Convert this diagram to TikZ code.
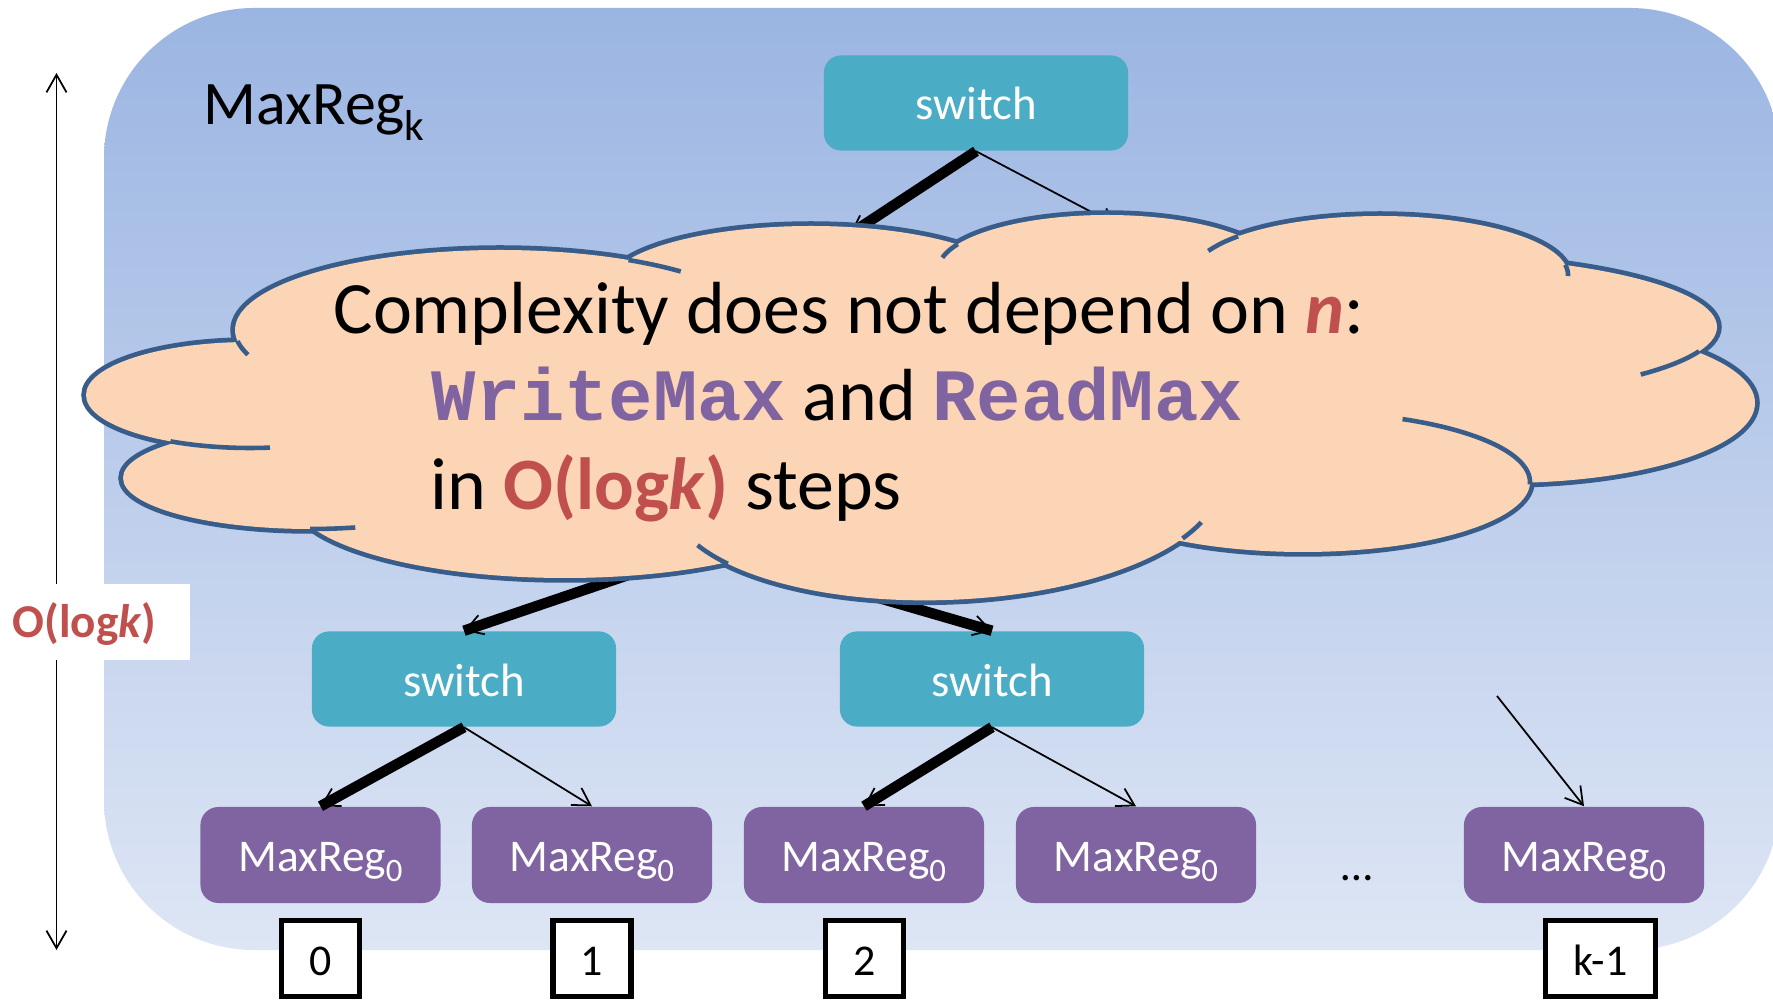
\documentclass[tikz,border=0pt]{standalone}
\usepackage{fontspec}
\setmainfont{Carlito}
\newfontfamily\courfont{Liberation Mono}
\usetikzlibrary{arrows.meta}
\definecolor{bgtop}{HTML}{9BB5E2}
\definecolor{bgbot}{HTML}{DEE6F5}
\definecolor{tealc}{HTML}{4BACC6}
\definecolor{purc}{HTML}{8064A2}
\definecolor{redc}{HTML}{C0504D}
\definecolor{cloudfill}{HTML}{FBD5B5}
\definecolor{cloudline}{HTML}{385D8A}
\tikzset{
  swbox/.style={fill=tealc, rounded corners=0.17cm, minimum width=3.04cm, minimum height=0.95cm,
    inner sep=0pt, text=white, font=\fontsize{13.3pt}{15pt}\selectfont, text height=0.40cm, text depth=0.06cm},
  mrbox/.style={fill=purc, rounded corners=0.18cm, minimum width=2.40cm, minimum height=0.96cm,
    inner sep=0pt, text=white, font=\fontsize{12.9pt}{15pt}\selectfont, text height=0.40cm, text depth=0.08cm},
  idxbox/.style={draw=black, line width=1.5pt, fill=white, minimum width=0.78cm, minimum height=0.76cm,
    inner sep=0pt, font=\fontsize{12.5pt}{15pt}\selectfont, text height=0.40cm, text depth=0.07cm},
  thk/.style={line width=3pt},
  arr/.style={line width=0.5pt, -{Straight Barb[length=4.8pt,width=5.7pt]}},
  cltwo/.style={draw=cloudline, line width=2.7pt},
  clfill/.style={fill=cloudfill},
  clbump/.style={draw=cloudline, line width=1.3pt},
  cloudtxt/.style={anchor=base west, inner sep=0pt, font=\fontsize{21pt}{25pt}\selectfont}
}
\newcommand{\mrzero}{MaxReg\raisebox{-3.1pt}{\fontsize{9.3pt}{10pt}\selectfont 0}}
\begin{document}
\begin{tikzpicture}[x=0.01cm,y=-0.01cm]
\useasboundingbox (0,0) rectangle (1773,1001);
\clip (0,0) rectangle (1773,1001);

% background
\shade[top color=bgtop, bottom color=bgbot, rounded corners=1.5cm] (104,8) rectangle (1780,950);

% title
\node[anchor=base west, inner sep=0pt, font=\fontsize{17.6pt}{20pt}\selectfont] (title) at (203,125)
  {MaxReg\raisebox{-4.3pt}{\fontsize{12.3pt}{14pt}\selectfont k}};

% switches
\node[swbox] (root) at (976,103) {switch};
\node[swbox] (lsw) at (464,679) {switch};
\node[swbox] (rsw) at (992,679) {switch};

% MaxReg0 boxes
\node[mrbox] (m1) at (320.5,855) {\mrzero};
\node[mrbox] (m2) at (592,855) {\mrzero};
\node[mrbox] (m3) at (864,855) {\mrzero};
\node[mrbox] (m4) at (1136,855) {\mrzero};
\node[mrbox] (m5) at (1584,855) {\mrzero};
\node[anchor=base, inner sep=0pt, font=\fontsize{12.8pt}{15pt}\selectfont] (dots) at (1357,880) {…};

% index boxes
\node[idxbox] (i0) at (320.5,958.5) {0};
\node[idxbox] (i1) at (592,958.5) {1};
\node[idxbox] (i2) at (864.5,958.5) {2};
\node[idxbox, minimum width=1.10cm] (ik) at (1600.5,958.5) {k-1};

% hidden / free ends
\coordinate (c1) at (850,234);
\coordinate (c2) at (1118,226);
\coordinate (h1) at (740,537);
\coordinate (h2) at (800,575);
\coordinate (f5) at (1497,696);

% arrows
\draw[thk] (root.south) -- (c1);
\draw[arr] (root.south) -- (c1);
\draw[arr] (root.south) -- (c2);
\draw[thk] (h1) -- (lsw.north);
\draw[arr] (h1) -- (lsw.north);
\draw[thk] (h2) -- (rsw.north);
\draw[arr] (h2) -- (rsw.north);
\draw[thk] (lsw.south) -- (m1.north);
\draw[arr] (lsw.south) -- (m1.north);
\draw[arr] (lsw.south) -- (m2.north);
\draw[thk] (rsw.south) -- (m3.north);
\draw[arr] (rsw.south) -- (m3.north);
\draw[arr] (rsw.south) -- (m4.north);
\draw[arr] (f5) -- (m5.north);

% cloud: outline pass
\foreach \cx/\cy/\ra/\rb in {250/395/164/53, 500/330/265/80, 811/286/203/60, 1107/270/169/55,
  1380/275/188/59, 1420/327/297/71, 1504/403/251/80, 1303/482/227/70, 565/498/272/80, 310/478/187/51}
  {\draw[cltwo] (\cx,\cy) ellipse [x radius=\ra, y radius=\rb];}
\draw[cltwo, rotate around={2:(945,490)}] (945,490) ellipse [x radius=275, y radius=110];
% cloud: fill pass
\foreach \cx/\cy/\ra/\rb in {250/395/164/53, 500/330/265/80, 811/286/203/60, 1107/270/169/55,
  1380/275/188/59, 1420/327/297/71, 1504/403/251/80, 1303/482/227/70, 565/498/272/80, 310/478/187/51}
  {\fill[clfill] (\cx,\cy) ellipse [x radius=\ra, y radius=\rb];}
\fill[clfill, rotate around={2:(945,490)}] (945,490) ellipse [x radius=275, y radius=110];
\fill[clfill] (250,395) -- (500,330) -- (811,286) -- (1107,270) -- (1380,275) -- (1420,327)
  -- (1504,403) -- (1303,482) -- (945,490) -- (565,498) -- (310,478) -- cycle;
% cloud: inner bumps
\draw[clbump] plot[domain=83:119, variable=\t, samples=20, smooth] ({250+164*cos(\t)},{395+53*sin(\t)});
\draw[clbump] plot[domain=162:172, variable=\t, samples=12, smooth] ({500+265*cos(\t)},{330+80*sin(\t)});
\draw[clbump] plot[domain=-61:-47, variable=\t, samples=12, smooth] ({500+265*cos(\t)},{330+80*sin(\t)});
\draw[clbump] plot[domain=-167:-152, variable=\t, samples=12, smooth] ({1107+169*cos(\t)},{270+55*sin(\t)});
\draw[clbump] plot[domain=-156:-139, variable=\t, samples=12, smooth] ({1380+188*cos(\t)},{275+59*sin(\t)});
\draw[clbump] plot[domain=-10:1, variable=\t, samples=12, smooth] ({1380+188*cos(\t)},{275+59*sin(\t)});
\draw[clbump] plot[domain=20:42, variable=\t, samples=14, smooth] ({1420+297*cos(\t)},{327+71*sin(\t)});
\draw[clbump] plot[domain=-64:2, variable=\t, samples=25, smooth] ({1303+227*cos(\t)},{482+70*sin(\t)});
\draw[clbump] plot[domain=76:90, variable=\t, samples=12, smooth] ({310+187*cos(\t)},{478+51*sin(\t)});
\begin{scope}[shift={(945,490)}, rotate=2]
  \draw[clbump] plot[domain=22:31, variable=\t, samples=10, smooth] ({275*cos(\t)},{110*sin(\t)});
  \draw[clbump] plot[domain=143:155, variable=\t, samples=10, smooth] ({275*cos(\t)},{110*sin(\t)});
\end{scope}

% cloud text
\node[cloudtxt] (t1) at (333,334) {Complexity does not depend on \textcolor{redc}{\textbf{\textit{n}}}:};
\node[cloudtxt] (t2) at (431,421) {{\courfont\bfseries\color{purc}WriteMax} and {\courfont\bfseries\color{purc}ReadMax}};
\node[cloudtxt] (t3) at (430,510) {in \textcolor{redc}{\textbf{O(log\textit{k})}} steps};

% vertical arrow with label
\coordinate (vt) at (56.5,73);
\coordinate (vb) at (56.5,950);
\draw[line width=0.5pt, {Straight Barb[length=5pt,width=5.7pt]}-{Straight Barb[length=5pt,width=5.7pt]}] (vt) -- (vb);
\fill[white] (0,584) rectangle (190,660);
\node[anchor=base west, inner sep=0pt, text=redc, font=\bfseries\fontsize{13.4pt}{15pt}\selectfont] (olog) at (12,638) {O(log\textit{k})};
\end{tikzpicture}
\end{document}
